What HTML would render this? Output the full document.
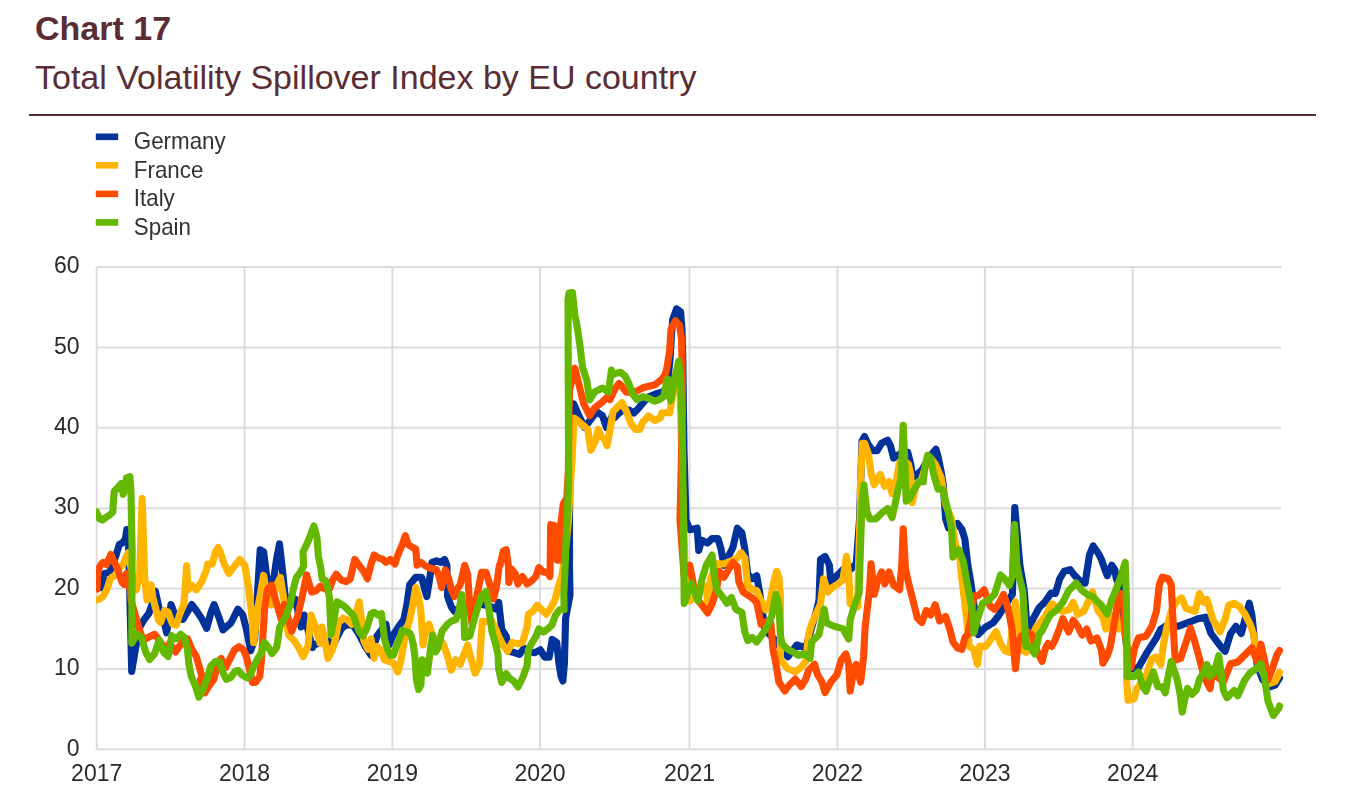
<!DOCTYPE html>
<html><head><meta charset="utf-8"><title>Chart 17</title>
<style>html,body{margin:0;padding:0;background:#fff;}body{width:1347px;height:808px;position:relative;overflow:hidden;}</style>
</head><body>
<svg width="1347" height="808" viewBox="0 0 1347 808" style="position:absolute;left:0;top:0">
<text x="35" y="39.8" font-family="Liberation Sans, Arial, sans-serif" font-weight="bold" font-size="34" fill="#5a2c33">Chart 17</text>
<text x="35" y="89.4" font-family="Liberation Sans, Arial, sans-serif" font-size="34" fill="#5a2c33">Total Volatility Spillover Index by EU country</text>
<rect x="29" y="114" width="1287" height="2" fill="#5a2c33"/>
<defs><filter id="soft" filterUnits="userSpaceOnUse" x="0" y="0" width="1347" height="808"><feGaussianBlur stdDeviation="0.45"/></filter></defs>
<g filter="url(#soft)">
<rect x="95.8" y="133.5" width="22.4" height="6.6" fill="#003299"/>
<text transform="translate(133.8,149.1) scale(0.972,1)" font-family="Liberation Sans, Arial, sans-serif" font-size="23" fill="#333">Germany</text>
<rect x="95.8" y="162.0" width="22.4" height="6.6" fill="#ffb400"/>
<text transform="translate(133.8,177.6) scale(0.972,1)" font-family="Liberation Sans, Arial, sans-serif" font-size="23" fill="#333">France</text>
<rect x="95.8" y="190.6" width="22.4" height="6.6" fill="#ff4b00"/>
<text transform="translate(133.8,206.2) scale(0.972,1)" font-family="Liberation Sans, Arial, sans-serif" font-size="23" fill="#333">Italy</text>
<rect x="95.8" y="219.1" width="22.4" height="6.6" fill="#65b800"/>
<text transform="translate(133.8,234.7) scale(0.972,1)" font-family="Liberation Sans, Arial, sans-serif" font-size="23" fill="#333">Spain</text>
<g stroke="#dcdcdc" stroke-width="2"><line x1="96.65" y1="668.93" x2="1281.3" y2="668.93"/><line x1="96.65" y1="588.57" x2="1281.3" y2="588.57"/><line x1="96.65" y1="508.20" x2="1281.3" y2="508.20"/><line x1="96.65" y1="427.83" x2="1281.3" y2="427.83"/><line x1="96.65" y1="347.47" x2="1281.3" y2="347.47"/><line x1="96.65" y1="267.10" x2="1281.3" y2="267.10"/><line x1="96.65" y1="267.10" x2="96.65" y2="749.30"/><line x1="244.50" y1="267.10" x2="244.50" y2="749.30"/><line x1="392.40" y1="267.10" x2="392.40" y2="749.30"/><line x1="540.05" y1="267.10" x2="540.05" y2="749.30"/><line x1="689.50" y1="267.10" x2="689.50" y2="749.30"/><line x1="837.40" y1="267.10" x2="837.40" y2="749.30"/><line x1="984.90" y1="267.10" x2="984.90" y2="749.30"/><line x1="1132.65" y1="267.10" x2="1132.65" y2="749.30"/><line x1="96.65" y1="749.30" x2="1281.3" y2="749.30"/></g>
<text x="79.6" y="755.5" text-anchor="end" font-family="Liberation Sans, Arial, sans-serif" font-size="23" fill="#2a2a2a">0</text>
<text x="79.6" y="675.1" text-anchor="end" font-family="Liberation Sans, Arial, sans-serif" font-size="23" fill="#2a2a2a">10</text>
<text x="79.6" y="594.8" text-anchor="end" font-family="Liberation Sans, Arial, sans-serif" font-size="23" fill="#2a2a2a">20</text>
<text x="79.6" y="514.4" text-anchor="end" font-family="Liberation Sans, Arial, sans-serif" font-size="23" fill="#2a2a2a">30</text>
<text x="79.6" y="434.0" text-anchor="end" font-family="Liberation Sans, Arial, sans-serif" font-size="23" fill="#2a2a2a">40</text>
<text x="79.6" y="353.7" text-anchor="end" font-family="Liberation Sans, Arial, sans-serif" font-size="23" fill="#2a2a2a">50</text>
<text x="79.6" y="273.3" text-anchor="end" font-family="Liberation Sans, Arial, sans-serif" font-size="23" fill="#2a2a2a">60</text>
<text x="96.7" y="780.8" text-anchor="middle" font-family="Liberation Sans, Arial, sans-serif" font-size="23" fill="#2a2a2a">2017</text>
<text x="244.5" y="780.8" text-anchor="middle" font-family="Liberation Sans, Arial, sans-serif" font-size="23" fill="#2a2a2a">2018</text>
<text x="392.4" y="780.8" text-anchor="middle" font-family="Liberation Sans, Arial, sans-serif" font-size="23" fill="#2a2a2a">2019</text>
<text x="540.0" y="780.8" text-anchor="middle" font-family="Liberation Sans, Arial, sans-serif" font-size="23" fill="#2a2a2a">2020</text>
<text x="689.5" y="780.8" text-anchor="middle" font-family="Liberation Sans, Arial, sans-serif" font-size="23" fill="#2a2a2a">2021</text>
<text x="837.4" y="780.8" text-anchor="middle" font-family="Liberation Sans, Arial, sans-serif" font-size="23" fill="#2a2a2a">2022</text>
<text x="984.9" y="780.8" text-anchor="middle" font-family="Liberation Sans, Arial, sans-serif" font-size="23" fill="#2a2a2a">2023</text>
<text x="1132.7" y="780.8" text-anchor="middle" font-family="Liberation Sans, Arial, sans-serif" font-size="23" fill="#2a2a2a">2024</text>
<clipPath id="plot"><rect x="96.1" y="200" width="1200" height="600"/></clipPath><g clip-path="url(#plot)">
<polyline fill="none" stroke="#003299" stroke-width="7.1" stroke-linejoin="round" stroke-linecap="round" points="97.0,586.8 102.0,587.9 104.3,573.5 109.8,572.4 115.9,555.6 119.3,544.5 122.6,542.8 125.4,538.9 126.8,529.5 128.2,531.1 131.7,671.4 135.4,649.1 139.9,626.8 144.3,619.4 148.8,613.5 152.5,603.1 155.4,591.2 159.2,609.0 163.6,619.4 166.6,632.8 171.0,604.6 175.5,616.4 182.9,619.4 187.4,612.0 191.8,604.6 196.3,610.5 202.2,619.4 206.7,628.3 211.1,612.0 214.1,604.6 218.6,616.4 223.0,629.8 230.9,623.0 237.9,609.1 242.8,615.0 246.8,630.9 250.7,650.7 254.7,638.8 257.7,589.3 260.2,549.7 263.6,551.7 266.6,575.4 271.5,595.2 276.5,559.6 279.5,543.8 282.4,569.5 285.4,599.2 290.3,597.2 295.3,599.2 301.2,626.9 304.2,615.0 312.5,647.6 311.7,646.4 317.6,643.5 326.6,640.5 334.0,643.5 341.4,628.6 347.3,624.2 353.3,625.6 359.2,634.6 365.2,646.4 371.1,655.3 377.0,636.0 386.0,624.2 388.9,645.0 393.4,634.6 399.3,625.6 403.8,619.7 406.8,604.9 409.7,584.7 415.7,577.2 421.6,577.2 424.6,589.1 426.8,596.5 429.0,583.2 432.0,562.4 436.5,560.9 440.9,562.4 444.6,559.4 446.9,565.3 447.6,596.5 451.3,606.9 454.3,611.4 462.0,606.0 470.0,604.0 480.0,604.0 490.5,606.4 496.4,609.4 498.7,602.3 501.7,629.0 506.2,636.4 509.1,651.3 515.1,652.8 519.5,654.3 524.0,648.3 528.4,651.3 534.4,652.8 540.3,649.8 544.8,657.2 549.2,657.2 552.2,639.4 556.7,642.4 558.9,663.2 561.1,676.5 562.9,681.0 564.4,663.2 565.6,618.6 570.0,594.9 569.5,566.0 569.5,520.0 570.0,470.0 571.0,430.0 573.8,403.8 578.8,415.7 584.7,427.6 590.6,419.7 596.6,411.7 602.5,415.7 606.5,427.6 612.4,415.7 614.6,417.5 619.0,413.1 623.5,410.1 629.4,410.1 633.9,413.1 638.3,408.6 644.3,401.2 648.7,396.7 656.2,393.8 662.1,392.3 667.0,388.0 670.0,360.0 671.5,335.0 672.7,319.7 676.6,308.8 680.6,311.8 682.0,329.6 682.8,359.3 683.2,389.0 684.0,450.0 686.0,520.0 689.8,529.7 697.2,528.2 698.7,550.5 701.7,540.1 707.6,543.1 712.1,538.6 718.0,538.6 721.0,549.0 724.0,565.3 728.4,556.4 732.9,547.5 737.3,528.2 741.8,532.7 744.8,549.0 747.7,574.3 752.2,578.7 756.7,575.7 759.6,592.1 765.0,630.0 775.0,640.0 782.0,650.0 787.8,656.8 796.8,645.0 805.7,647.9 816.1,612.3 819.0,600.4 820.5,559.4 825.0,556.4 829.4,565.3 830.9,583.2 835.4,577.2 839.8,572.8 844.3,568.3 850.2,569.8 856.2,563.9 859.5,520.0 860.5,489.0 862.0,441.0 864.6,436.5 868.3,444.7 872.8,450.6 877.2,450.6 881.7,443.2 887.6,440.2 890.6,446.2 893.6,458.1 898.0,455.1 902.5,452.1 907.7,452.1 910.7,464.0 912.9,477.4 917.3,474.4 921.8,470.0 926.3,462.5 932.2,453.6 935.9,449.2 938.1,456.6 941.1,471.4 943.3,484.8 945.6,519.0 948.5,527.9 953.0,524.9 957.4,523.4 961.9,529.4 964.9,539.3 967.8,564.6 970.8,582.4 978.2,634.6 985.7,627.1 993.1,622.7 999.0,615.2 1006.5,603.2 1012.4,594.3 1014.8,507.5 1019.8,564.6 1024.3,591.3 1027.2,629.9 1039.1,607.8 1045.1,601.9 1051.0,593.0 1055.4,593.5 1059.8,578.6 1064.3,571.2 1070.2,569.7 1074.7,575.6 1080.6,581.6 1085.1,583.1 1089.5,554.9 1093.2,545.9 1098.4,553.4 1101.4,559.3 1104.4,568.2 1107.3,575.6 1111.8,565.2 1114.8,569.7 1116.3,578.6 1119.2,584.6 1121.0,600.0 1127.0,650.0 1131.1,669.0 1138.5,667.5 1146.0,654.2 1156.4,637.8 1160.8,629.1 1165.3,626.1 1178.6,626.1 1190.5,621.7 1197.9,618.7 1205.4,617.2 1211.0,633.5 1216.3,640.6 1221.7,647.7 1225.2,651.3 1230.6,633.5 1235.9,626.3 1241.3,633.5 1249.3,603.2 1252.0,615.6 1254.7,642.4 1257.3,665.5 1262.7,679.8 1269.8,686.9 1275.1,685.1 1279.5,678.0"/>
<polyline fill="none" stroke="#ffb400" stroke-width="7.1" stroke-linejoin="round" stroke-linecap="round" points="96.5,600.0 99.5,599.0 102.4,597.0 105.0,593.0 107.0,589.0 109.8,580.0 112.0,577.0 114.3,576.0 116.5,573.0 118.7,569.0 121.0,566.0 123.2,564.0 126.1,557.0 128.0,553.0 133.0,578.0 136.0,590.0 139.5,577.3 142.2,498.6 144.7,577.3 147.0,600.0 149.0,590.0 151.0,585.0 153.0,598.0 156.0,610.0 158.5,620.0 160.6,622.4 164.4,610.5 168.1,612.0 172.5,623.9 176.2,625.3 180.0,613.5 183.7,604.6 185.1,589.7 186.6,565.9 188.1,589.7 191.8,585.2 196.3,589.7 199.3,585.2 202.2,580.8 206.7,568.9 207.8,564.0 212.3,564.0 215.3,552.1 218.2,547.6 221.2,555.0 224.2,564.0 228.6,572.9 229.0,573.5 234.9,565.5 239.9,559.6 244.8,565.5 248.8,589.3 251.7,615.0 253.7,642.8 257.7,609.1 263.6,575.4 267.6,599.2 271.5,605.1 276.5,585.3 280.4,577.4 284.4,603.2 288.4,634.9 294.3,640.8 299.3,648.7 303.2,656.6 308.0,646.1 311.0,615.0 315.5,626.8 319.9,643.2 322.1,627.1 325.1,642.0 328.0,658.3 332.5,649.4 335.5,639.0 338.4,622.7 342.9,618.2 347.3,619.7 351.8,624.2 356.3,612.3 359.2,601.9 361.5,619.7 363.7,640.5 368.1,649.4 371.1,639.0 374.1,658.3 377.0,646.4 380.0,649.4 384.5,659.8 388.9,661.3 393.4,662.8 397.8,671.7 400.8,661.3 405.3,634.6 409.7,619.7 412.7,604.9 415.7,587.6 418.6,596.5 420.9,611.4 423.1,645.0 426.1,627.1 429.0,624.2 432.0,634.6 436.5,642.0 442.4,642.0 446.9,653.9 451.3,670.2 455.8,659.8 460.2,664.3 464.7,652.4 467.6,645.0 470.6,656.8 475.1,673.2 479.5,664.3 482.3,621.3 486.9,621.6 491.3,620.1 495.8,629.0 498.7,636.4 503.2,645.3 507.6,651.3 512.1,642.4 518.0,643.9 522.5,642.4 527.0,627.5 528.4,614.2 532.9,611.2 537.3,605.2 541.8,609.7 546.3,614.2 550.7,608.2 555.2,599.3 558.1,587.4 562.0,575.0 566.0,545.0 568.5,520.0 570.0,490.0 572.0,460.0 573.0,440.0 574.0,418.0 577.0,420.0 587.8,429.4 590.8,450.2 595.3,441.3 598.2,429.4 601.2,436.8 604.2,438.3 607.1,445.7 610.1,429.4 613.1,411.6 617.5,407.1 622.0,402.7 626.5,411.6 630.9,423.5 635.4,429.4 639.8,429.4 642.8,422.0 648.7,416.0 654.7,420.5 660.6,417.5 661.8,412.8 669.7,412.8 671.7,400.9 676.0,372.0 680.0,390.0 683.0,500.0 686.0,600.0 689.8,601.0 695.8,596.5 701.7,589.1 706.2,586.1 707.6,602.5 710.6,578.7 716.6,563.9 724.0,563.9 731.4,560.9 737.3,557.9 741.1,552.7 744.8,557.9 747.7,586.1 752.2,589.1 756.7,590.6 761.1,601.0 765.6,609.9 770.0,601.0 774.5,578.7 776.7,571.3 778.9,577.2 780.4,596.5 780.4,659.8 787.8,668.7 795.3,671.7 801.2,667.2 805.7,661.3 808.6,634.6 811.6,624.2 820.5,604.0 823.5,578.7 827.9,592.1 832.4,587.6 836.9,584.7 842.8,580.2 846.5,556.4 848.7,574.3 850.2,604.0 857.6,606.9 859.1,544.6 860.6,500.0 860.2,489.3 862.4,443.2 864.6,443.2 868.3,453.6 871.3,474.4 874.3,484.8 880.2,474.4 884.7,486.3 889.1,481.8 892.1,493.7 896.6,478.9 899.5,462.5 902.5,459.6 908.4,464.0 910.7,474.4 912.1,502.6 915.9,486.3 921.8,478.9 926.3,464.0 930.7,458.1 935.2,464.0 941.1,477.4 945.6,504.1 951.5,519.0 956.0,548.2 958.9,549.7 961.9,579.4 966.4,616.5 969.3,646.4 973.8,649.4 977.5,664.3 979.7,646.4 985.7,646.4 990.1,640.5 996.1,631.6 1000.5,643.5 1005.0,650.9 1009.4,652.4 1015.4,601.9 1018.3,619.7 1021.3,649.4 1025.8,652.4 1030.2,647.9 1036.2,627.1 1045.1,616.7 1051.0,604.9 1052.4,603.9 1056.9,608.3 1062.8,611.3 1068.7,609.8 1073.2,602.4 1077.6,614.3 1083.6,611.3 1086.6,605.3 1092.5,592.0 1095.5,602.4 1098.4,611.3 1102.9,617.2 1105.9,629.1 1110.3,617.2 1116.3,614.3 1119.2,629.1 1124.0,622.0 1126.3,640.0 1126.6,680.0 1128.1,700.2 1134.1,698.7 1137.0,688.3 1146.0,676.4 1151.9,658.6 1156.4,657.1 1160.8,664.6 1163.8,642.3 1166.8,627.4 1171.2,611.3 1175.7,602.4 1181.6,597.9 1186.1,608.3 1190.5,609.8 1195.0,611.3 1199.4,593.5 1203.9,602.4 1206.9,599.4 1212.8,619.2 1219.9,631.7 1225.2,619.2 1228.8,605.0 1234.2,603.2 1239.5,606.7 1244.9,613.9 1250.2,624.6 1253.8,635.2 1255.5,647.7 1258.2,660.2 1262.7,672.7 1269.8,683.4 1275.1,681.6 1279.5,672.5"/>
<polyline fill="none" stroke="#ff4b00" stroke-width="7.1" stroke-linejoin="round" stroke-linecap="round" points="97.0,589.1 98.1,570.1 100.9,564.6 103.1,562.3 106.5,564.6 110.9,554.5 114.3,562.3 117.6,569.0 122.1,582.4 124.3,584.6 126.5,573.5 128.8,575.7 131.0,600.0 138.0,625.0 143.0,640.0 154.7,634.3 159.2,640.2 165.1,649.1 169.6,643.2 175.5,652.1 181.4,643.2 187.4,638.7 191.8,649.1 196.3,656.5 199.3,666.9 202.2,677.3 200.4,679.4 204.9,692.8 209.3,685.3 213.8,679.4 218.2,661.6 221.2,658.6 225.7,667.5 230.1,658.6 234.6,649.7 239.0,646.7 243.5,649.7 246.5,657.1 249.4,669.0 252.4,682.4 255.4,682.4 259.8,676.4 261.3,661.6 264.6,609.1 267.6,589.3 271.5,585.3 273.9,594.2 278.3,609.0 281.3,619.4 284.3,604.6 291.7,631.3 297.6,616.4 302.1,597.1 306.6,574.9 311.7,592.1 316.2,590.6 320.6,586.1 325.1,589.1 329.5,589.1 332.5,580.2 336.2,574.3 341.4,580.2 345.9,581.7 350.3,578.7 354.8,559.4 359.2,565.3 363.7,571.3 367.4,578.7 371.1,563.9 374.1,555.0 378.5,557.9 383.0,559.4 386.0,562.4 390.4,559.4 394.9,563.9 397.8,555.0 402.3,544.6 405.3,535.6 408.2,544.6 412.7,547.5 415.7,549.0 417.1,565.3 420.9,562.4 424.6,565.3 430.5,568.3 436.5,569.8 439.4,577.2 441.7,587.6 445.4,569.8 448.3,577.2 451.3,589.1 454.3,596.5 457.2,589.1 460.2,584.7 464.7,565.3 467.6,574.3 469.9,607.8 472.1,624.2 471.9,621.3 475.6,602.0 478.6,587.1 481.6,572.3 486.0,572.3 490.5,587.1 493.5,599.0 496.4,587.1 499.4,564.9 500.2,564.7 503.2,551.3 506.2,549.8 508.4,566.1 508.8,582.5 511.4,569.1 515.1,573.6 518.0,584.0 522.5,576.5 527.0,584.0 531.4,581.0 535.9,576.5 538.8,567.6 543.3,572.1 547.7,572.1 550.0,576.5 550.7,524.6 555.2,526.0 557.4,560.2 559.6,560.2 561.1,521.6 563.3,503.8 566.8,498.0 568.4,470.0 568.8,420.0 569.6,390.0 574.8,368.2 578.8,384.0 583.7,403.8 589.7,415.7 594.6,407.8 602.5,401.8 608.5,395.9 610.1,399.7 614.6,389.3 619.0,383.4 622.0,386.3 626.5,392.3 632.4,392.3 636.9,390.8 642.8,387.8 648.7,386.3 654.7,384.9 662.1,378.9 665.1,374.5 666.6,369.5 669.5,351.7 671.0,329.4 672.7,325.6 675.6,320.7 679.6,325.6 681.6,339.5 682.2,369.2 682.6,408.8 680.0,520.0 684.0,575.0 689.8,565.3 694.3,589.1 698.7,601.0 703.2,606.9 707.6,612.9 712.1,604.0 716.6,589.1 719.5,571.3 724.0,577.2 728.4,569.8 732.9,562.4 737.3,566.8 738.8,581.7 743.3,592.1 747.7,595.0 752.2,598.0 756.7,602.5 761.1,624.2 767.0,621.2 770.8,622.7 773.0,649.4 776.0,664.3 778.9,682.1 784.9,691.0 789.3,685.0 795.3,679.1 801.2,686.5 805.7,679.1 808.6,670.2 814.6,664.3 817.5,674.7 822.0,682.1 825.0,692.5 830.9,682.1 836.9,674.7 841.3,659.8 845.8,653.9 848.7,664.3 850.2,691.0 853.2,673.2 856.2,664.3 860.6,682.1 863.6,656.8 865.1,627.1 869.5,590.0 871.0,563.9 874.3,594.3 877.2,582.4 881.7,572.0 884.7,583.9 889.1,572.0 893.6,585.3 899.5,589.8 901.8,564.6 903.2,528.9 905.5,569.0 908.4,582.4 912.9,600.2 917.3,618.0 921.8,622.5 926.3,610.6 930.7,615.0 935.2,604.7 939.6,621.0 945.6,616.5 950.0,629.9 953.0,642.0 957.4,647.9 961.9,649.4 964.9,637.5 967.8,634.6 970.8,619.7 973.8,595.9 978.2,595.7 984.2,589.8 990.1,606.1 994.6,609.3 999.0,603.4 1003.5,594.5 1006.5,603.2 1009.4,615.0 1012.4,631.6 1015.4,668.7 1018.3,642.0 1021.3,636.0 1027.2,631.6 1031.7,634.6 1037.6,652.4 1042.1,661.3 1045.1,649.4 1048.0,643.5 1051.8,646.4 1055.4,639.3 1059.8,627.4 1062.8,618.7 1068.7,632.1 1073.2,620.2 1077.6,626.1 1082.1,635.0 1086.6,629.1 1091.0,641.0 1097.0,638.0 1101.4,649.9 1102.9,663.1 1107.3,655.6 1110.3,646.7 1113.3,628.9 1117.7,602.4 1120.7,593.5 1123.7,602.4 1124.0,620.0 1128.0,655.0 1131.1,667.5 1134.1,649.7 1138.5,637.8 1146.0,636.3 1151.9,626.1 1156.4,611.3 1159.3,584.6 1162.3,577.1 1168.2,578.6 1171.2,584.6 1172.7,614.3 1174.2,644.0 1175.3,660.2 1180.7,658.4 1186.0,642.4 1190.5,628.1 1195.0,642.4 1198.5,654.9 1202.1,669.1 1205.6,679.8 1210.1,688.7 1212.8,669.1 1216.3,676.2 1223.5,681.6 1230.6,663.8 1237.7,662.0 1244.9,654.9 1252.0,647.7 1257.3,662.0 1260.9,644.2 1264.5,660.2 1268.0,679.8 1271.6,670.9 1276.9,654.9 1279.5,650.5"/>
<polyline fill="none" stroke="#65b800" stroke-width="7.1" stroke-linejoin="round" stroke-linecap="round" points="96.5,512.0 99.4,518.7 102.4,520.1 106.1,517.2 109.8,515.0 112.8,512.0 113.5,500.1 114.3,491.2 117.2,488.2 121.0,483.8 123.2,494.2 125.0,489.7 126.5,477.8 129.9,476.6 130.9,489.7 131.5,519.4 132.1,549.1 131.8,643.2 136.9,634.3 141.3,637.2 145.8,652.1 149.5,659.5 154.7,653.6 159.2,640.2 163.6,652.1 168.1,656.5 171.8,635.7 176.2,638.7 180.7,634.3 184.4,637.2 187.4,649.1 188.9,664.0 191.1,675.8 195.2,685.3 198.9,697.2 203.4,688.3 207.8,676.4 210.8,666.0 215.3,661.6 219.4,661.6 222.7,672.0 226.4,679.4 230.9,677.2 235.3,671.2 238.3,670.5 242.0,675.0 247.2,677.9 250.2,675.7 253.1,667.5 256.9,660.1 261.3,652.7 264.3,642.3 268.0,646.7 272.0,653.4 276.2,648.2 276.9,646.1 279.8,626.8 285.8,616.4 290.2,604.6 293.2,589.7 296.2,577.8 300.6,571.9 303.6,565.9 303.0,552.0 306.0,546.0 309.0,539.0 313.9,526.0 316.9,537.1 318.4,556.4 320.6,566.8 322.1,578.7 325.8,580.9 328.0,589.1 329.5,598.0 331.0,634.6 334.0,619.7 337.0,601.9 339.9,603.4 344.4,606.3 348.8,610.8 353.3,615.2 356.3,624.2 359.2,631.6 362.9,636.0 366.7,628.6 371.1,613.8 374.1,612.3 378.5,615.2 381.5,613.8 383.0,627.1 384.5,639.0 387.4,649.4 390.4,655.3 393.4,655.3 396.4,646.4 399.3,639.0 402.3,630.1 406.8,631.6 409.7,633.1 411.2,636.0 413.4,645.0 414.9,656.8 416.4,679.1 418.6,689.5 420.9,685.0 422.3,659.8 424.6,664.3 427.5,673.2 428.0,668.0 431.0,645.0 432.7,635.0 435.4,652.0 438.0,648.0 442.0,631.0 447.7,624.0 451.3,621.2 455.8,619.7 458.7,612.3 461.7,594.5 463.9,616.7 464.7,637.5 469.7,636.1 477.1,609.4 481.6,596.0 486.0,591.6 489.0,609.4 492.0,631.7 496.4,646.5 495.8,645.3 498.0,654.3 498.7,669.1 501.7,682.5 506.2,673.6 509.1,678.0 513.6,681.0 518.0,686.9 522.5,678.0 527.0,666.1 528.4,649.8 531.4,643.9 535.9,636.4 538.8,629.0 543.3,632.0 547.7,629.0 552.2,624.6 555.2,615.6 559.6,609.7 564.1,609.7 563.8,594.0 565.0,570.0 566.0,540.0 567.5,510.0 568.6,480.0 568.0,300.0 569.0,293.0 572.5,292.5 574.8,314.7 576.8,324.6 579.8,344.4 582.7,368.2 586.7,380.0 589.7,399.9 594.6,391.9 602.5,388.0 608.5,391.9 611.4,370.1 613.1,374.5 617.5,373.0 620.5,372.2 625.0,375.9 629.4,384.9 632.4,393.8 636.9,399.7 642.8,396.7 648.7,398.2 654.7,401.2 659.1,399.7 663.6,396.7 666.6,381.9 667.7,379.1 670.7,400.9 673.7,385.0 678.6,361.3 680.6,379.1 681.6,408.8 682.6,450.0 684.2,603.4 691.3,583.2 698.0,601.0 701.7,580.2 706.2,565.3 712.1,555.0 713.6,571.3 716.6,589.1 724.0,598.9 727.0,603.4 731.4,597.4 735.9,609.3 741.8,612.3 744.8,631.6 747.7,640.5 752.2,637.5 756.7,642.0 761.1,636.0 767.0,627.1 771.5,616.7 776.0,594.5 778.9,604.9 780.4,634.6 781.9,643.5 787.8,649.4 793.8,652.4 798.2,655.3 804.2,653.9 810.1,658.3 811.6,642.0 819.0,634.6 824.2,609.3 826.5,622.7 832.4,625.6 836.9,627.1 842.8,628.6 848.7,639.0 850.2,619.7 854.7,604.9 859.1,593.0 860.6,544.6 862.1,500.0 863.9,484.8 865.4,498.2 866.9,511.5 869.8,519.0 875.8,519.0 881.7,513.0 887.6,508.6 892.1,517.5 895.1,504.1 898.0,489.3 901.0,478.9 903.2,425.4 904.7,459.6 906.2,501.1 909.9,498.2 914.4,489.3 918.8,481.8 923.3,481.8 924.8,467.0 927.7,455.1 930.7,458.1 933.7,474.4 938.1,489.3 942.6,489.3 945.6,501.1 948.5,513.0 951.5,527.9 953.0,557.1 958.9,549.7 963.4,561.6 966.4,579.4 969.3,594.3 972.3,612.1 973.8,632.9 978.2,616.5 982.7,603.2 988.6,600.2 994.6,594.3 1000.5,575.0 1005.0,579.4 1009.4,585.3 1012.4,576.4 1014.6,524.5 1016.9,564.6 1019.8,579.4 1022.8,591.3 1024.3,616.5 1025.8,646.4 1030.2,646.4 1034.7,653.9 1039.1,634.6 1042.0,631.0 1046.0,623.0 1049.5,616.0 1050.9,614.3 1056.9,609.8 1062.8,602.4 1068.7,590.5 1076.2,583.1 1082.1,590.5 1088.0,595.0 1092.5,596.4 1097.0,600.9 1101.4,605.3 1107.3,614.3 1111.8,599.4 1116.3,589.0 1120.7,577.1 1125.2,562.3 1126.4,599.4 1127.0,649.7 1127.4,676.4 1134.1,676.4 1138.5,672.0 1143.0,686.8 1146.0,691.3 1148.9,682.4 1153.4,672.0 1157.8,686.8 1162.3,686.8 1165.3,692.8 1168.2,676.4 1171.2,661.6 1177.1,679.4 1180.1,694.3 1182.3,712.1 1184.6,700.2 1187.5,688.3 1192.0,694.3 1196.5,689.8 1199.4,679.4 1203.9,672.0 1206.9,664.6 1209.8,676.4 1214.3,672.0 1218.7,655.6 1223.5,690.5 1227.0,697.6 1234.2,690.5 1237.7,695.8 1244.9,679.8 1250.2,672.7 1255.5,669.1 1260.9,663.8 1264.5,678.0 1268.0,701.2 1273.4,715.4 1278.7,708.3 1279.5,706.0"/>
</g>
</g>
</svg>
</body></html>
